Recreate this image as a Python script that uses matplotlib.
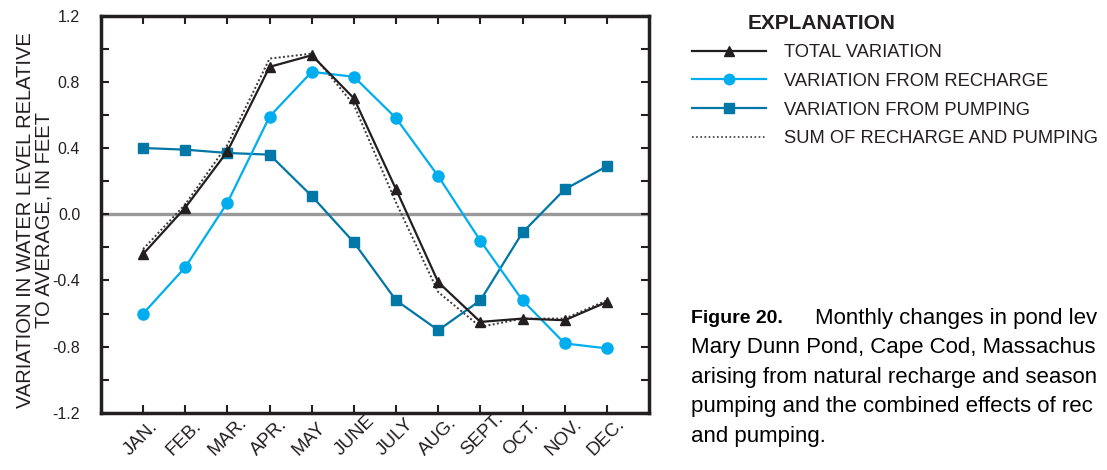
import matplotlib
matplotlib.use("Agg")
import matplotlib.pyplot as plt
import matplotlib.transforms as mtransforms
from matplotlib.lines import Line2D

# Data (feet relative to average)
months = ["JAN.", "FEB.", "MAR.", "APR.", "MAY", "JUNE", "JULY", "AUG.",
          "SEPT.", "OCT.", "NOV.", "DEC."]
total = [-0.24, 0.04, 0.38, 0.89, 0.96, 0.70, 0.15, -0.41, -0.65, -0.63, -0.64, -0.53]
recharge = [-0.60, -0.32, 0.07, 0.59, 0.86, 0.83, 0.58, 0.23, -0.16, -0.52, -0.78, -0.81]
pumping = [0.40, 0.39, 0.37, 0.36, 0.11, -0.17, -0.52, -0.70, -0.52, -0.11, 0.15, 0.29]
summed = [-0.21, 0.06, 0.42, 0.94, 0.97, 0.66, 0.07, -0.47, -0.68, -0.63, -0.63, -0.52]
ytick_labels = ["-1.2", "-0.8", "-0.4", "0.0", "0.4", "0.8", "1.2"]

# Colours
BLACK = "#231f20"
LIGHT_BLUE = "#00aeef"
DARK_BLUE = "#0077a6"
GRAY = "#999999"
DOTS = "#3a3a3a"

plt.rcParams["font.family"] = ["Liberation Sans", "DejaVu Sans"]

fig = plt.figure(figsize=(11.07, 4.70), dpi=100)
ax = fig.add_axes([0.0912, 0.1213, 0.4951, 0.8457])

x = list(range(1, len(months) + 1))

ax.axhline(0, color=GRAY, lw=2.4, zorder=1)
ax.plot(x, summed, color=DOTS, lw=1.4, ls=(0, (1, 1.2)), zorder=2)
ax.plot(x, pumping, color=DARK_BLUE, lw=1.6, marker="s", ms=7, zorder=3)
ax.plot(x, recharge, color=LIGHT_BLUE, lw=1.6, marker="o", ms=8, zorder=4)
ax.plot(x, total, color=BLACK, lw=1.6, marker="^", ms=7.5, zorder=5)

ax.set_xlim(0, 13)
ax.set_ylim(-1.2, 1.2)
ax.set_xticks(x)
ax.set_yticks([-1.2, -0.8, -0.4, 0.0, 0.4, 0.8, 1.2])
ax.set_yticks([-1.0, -0.6, -0.2, 0.2, 0.6, 1.0], minor=True)
ax.tick_params(axis="both", which="both", direction="in", top=True, right=True,
               length=6, width=1.5, color=BLACK)
ax.tick_params(axis="y", pad=15)
ax.tick_params(axis="x", pad=0)
ax.set_yticklabels(ytick_labels, fontsize=11.5, color=BLACK)
# month labels start just left of each tick and climb at 45 degrees
ax.set_xticklabels(months, rotation=45, ha="left", va="baseline",
                   rotation_mode="anchor", fontsize=13.5, color=BLACK)
shift = mtransforms.ScaledTranslation(-13 / 100, -43 / 100, fig.dpi_scale_trans)
for lab in ax.get_xticklabels():
    lab.set_transform(lab.get_transform() + shift)
for sp in ax.spines.values():
    sp.set_linewidth(2.5)
    sp.set_color(BLACK)

ax.set_ylabel("VARIATION IN WATER LEVEL RELATIVE\nTO AVERAGE, IN FEET", fontsize=14.5,
              linespacing=1.0, color=BLACK)
ax.yaxis.set_label_coords(-0.086, 0.485)

# Explanation (legend)
fig.text(0.675, 0.949, "EXPLANATION", fontsize=15, fontweight="bold",
         va="center", color=BLACK)
handles = [
    Line2D([], [], color=BLACK, lw=1.6, marker="^", ms=7),
    Line2D([], [], color=LIGHT_BLUE, lw=1.6, marker="o", ms=7.5),
    Line2D([], [], color=DARK_BLUE, lw=1.6, marker="s", ms=6.5),
    Line2D([], [], color=DOTS, lw=1.2, ls=(0, (1, 1.5))),
]
labels = ["TOTAL VARIATION", "VARIATION FROM RECHARGE",
          "VARIATION FROM PUMPING", "SUM OF RECHARGE AND PUMPING"]
leg = fig.legend(handles, labels, loc="upper left", bbox_to_anchor=(0.625, 0.906),
                 frameon=False, fontsize=13.2, handlelength=4.05, handletextpad=1.0,
                 labelspacing=0.64, borderpad=0, borderaxespad=0)
for t in leg.get_texts():
    t.set_color(BLACK)

# Caption (the reference crops it at the right edge of the image)
cap_font = ["Liberation Sans Narrow", "Liberation Sans"]
fig.text(0.624, 0.323, "Figure 20.", fontsize=14, fontweight="bold", va="center",
         family=cap_font, color="black")
caption_lines = [
    "Monthly changes in pond lev",
    "Mary Dunn Pond, Cape Cod, Massachus",
    "arising from natural recharge and season",
    "pumping and the combined effects of rec",
    "and pumping.",
]
fig.text(0.736, 0.323, caption_lines[0], fontsize=16, va="center",
         family=cap_font, color="black")
for i, line in enumerate(caption_lines[1:], start=1):
    fig.text(0.624, 0.323 - i * 0.0628, line, fontsize=16, va="center",
             family=cap_font, color="black")

fig.savefig("out.png", dpi=100)
